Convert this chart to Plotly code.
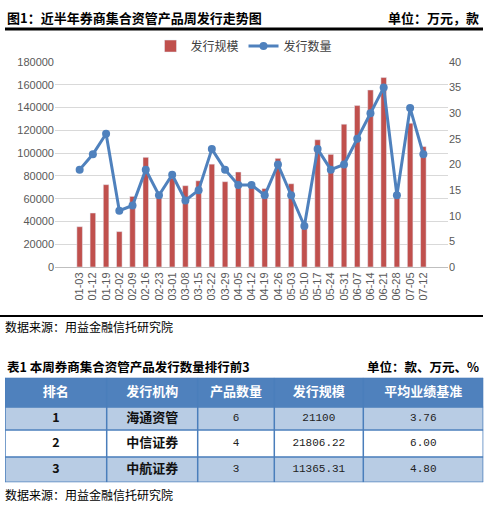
import plotly.graph_objects as go

W, H = 488, 512

weeks = ["01-03", "01-12", "01-19", "02-02", "02-09", "02-16", "02-23", "03-01", "03-08",
         "03-15", "03-22", "03-29", "04-05", "04-12", "04-19", "04-26", "05-03", "05-10",
         "05-17", "05-24", "05-31", "06-07", "06-14", "06-21", "06-28", "07-05", "07-12"]
scale = [35400, 47400, 72300, 31100, 62000, 96300, 63000, 78000, 71400,
         75700, 90300, 74900, 83400, 70600, 68900, 95400, 73100, 37000,
         111700, 98900, 125400, 141700, 155400, 166300, 63000, 126300, 105700]
count = [19, 22, 26, 11, 12, 19, 14, 18, 13,
         15, 23, 19, 16, 16, 14, 20, 14, 8,
         23, 19, 20, 25, 30, 35, 14, 31, 22]

tbl_header = ["排名", "发行机构", "产品数量", "发行规模", "平均业绩基准"]
rank = ["1", "2", "3"]
org = ["海通资管", "中信证券", "中航证券"]
num = ["6", "4", "3"]
amount = ["21100", "21806.22", "11365.31"]
bench = ["3.76", "6.00", "4.80"]

red = "#C0504D"
blue = "#4F81BD"
light = "#B8CCE4"
border = "#4A7EBB"
cjk = "Noto Sans CJK SC"
mono = "Liberation Mono"


def px_x(x):
    return x / W


def px_y(y):
    return 1 - y / H


# table geometry in page pixels
col_edges = [5, 106.7, 197.7, 274.3, 363.3, 483.3]
row_edges = [380.7, 410.7, 434.3, 461.7, 487.7]
col_mid = [(a + b) / 2 for a, b in zip(col_edges[:-1], col_edges[1:])]
row_mid = [(a + b) / 2 for a, b in zip(row_edges[:-1], row_edges[1:])]

fig = go.Figure()
fig.add_trace(go.Bar(x=weeks, y=scale, name="发行规模", marker_color=red, yaxis="y",
                     hoverinfo="skip"))
fig.add_trace(go.Scatter(x=weeks, y=count, name="发行数量", yaxis="y2", mode="lines+markers",
                         line=dict(color=blue, width=3), marker=dict(size=8, color=blue),
                         hoverinfo="skip"))

# table: cell fills as a heatmap, header blue, rows alternate
n_cols = len(tbl_header)
fills = [[2] * n_cols] + [[1 if i % 2 == 0 else 0] * n_cols for i in range(len(rank))]
fig.add_trace(go.Heatmap(z=fills, x=col_edges, y=row_edges, xaxis="x3", yaxis="y3",
                         zmin=0, zmax=2, showscale=False, hoverinfo="skip",
                         colorscale=[[0, "#FFFFFF"], [0.25, "#FFFFFF"], [0.25, light],
                                     [0.75, light], [0.75, blue], [1, blue]]))
fig.add_trace(go.Scatter(x=col_mid, y=[row_mid[0]] * n_cols, mode="text",
                         text=["<b>%s</b>" % h for h in tbl_header], xaxis="x3", yaxis="y3",
                         textfont=dict(family=cjk, size=13, color="white"),
                         showlegend=False, hoverinfo="skip", cliponaxis=False))
columns = [
    (["<b>%s</b>" % r for r in rank], dict(family=cjk, size=12.5, color="#111111")),
    (["<b>%s</b>" % o for o in org], dict(family=cjk, size=13, color="#111111")),
    (num, dict(family=mono, size=11, color="#222222")),
    (amount, dict(family=mono, size=11, color="#222222")),
    (bench, dict(family=mono, size=11, color="#222222")),
]
for i, (vals, f) in enumerate(columns):
    fig.add_trace(go.Scatter(x=[col_mid[i]] * len(vals), y=row_mid[1:], mode="text", text=vals,
                             xaxis="x3", yaxis="y3", textfont=f, showlegend=False,
                             hoverinfo="skip", cliponaxis=False))

for x in col_edges:
    fig.add_shape(type="line", xref="x3", yref="y3", x0=x, x1=x, y0=row_edges[0],
                  y1=row_edges[-1], line=dict(color=border, width=1.5))
for y in row_edges:
    fig.add_shape(type="line", xref="x3", yref="y3", x0=col_edges[0], x1=col_edges[-1],
                  y0=y, y1=y, line=dict(color=border, width=1.5))

fig.update_layout(
    width=W, height=H, margin=dict(l=0, r=0, t=0, b=0),
    paper_bgcolor="white", plot_bgcolor="white",
    font=dict(family=cjk, color="#595959"),
    bargap=0.58, showlegend=True,
    legend=dict(orientation="h", x=0.5, xanchor="center", y=px_y(41), yanchor="middle",
                font=dict(size=12, color="#404040"), itemwidth=30, tracegroupgap=0),
    xaxis=dict(domain=[px_x(55), px_x(448)], type="category", tickangle=-90,
               tickfont=dict(size=11, family="Liberation Sans"),
               showline=True, linecolor="#BFBFBF", ticks="", showgrid=False),
    yaxis=dict(domain=[px_y(267.3), px_y(57.3)], range=[0, 180000], dtick=20000,
               gridcolor="#D9D9D9", tickfont=dict(size=11, family="Liberation Sans"),
               zeroline=False, tickformat="d"),
    yaxis2=dict(overlaying="y", side="right", range=[0, 40], dtick=5, showgrid=False,
                tickfont=dict(size=11, family="Liberation Sans"), zeroline=False, anchor="x"),
    xaxis3=dict(domain=[px_x(col_edges[0]), px_x(col_edges[-1])],
                range=[col_edges[0], col_edges[-1]], visible=False, anchor="y3"),
    yaxis3=dict(domain=[px_y(row_edges[-1]), px_y(row_edges[0])],
                range=[row_edges[-1], row_edges[0]], visible=False, anchor="x3"),
)

# header rules
fig.add_shape(type="line", xref="paper", yref="paper", x0=px_x(5), x1=px_x(483),
              y0=px_y(23.5), y1=px_y(23.5), line=dict(color="black", width=3))
fig.add_shape(type="line", xref="paper", yref="paper", x0=px_x(0), x1=px_x(483),
              y0=px_y(317.5), y1=px_y(317.5), line=dict(color="black", width=2))

notes = [
    ("<b>图1：近半年券商集合资管产品周发行走势图</b>", 5, 12, "left", 13),
    ("<b>单位：万元，款</b>", 481, 12, "right", 13),
    ("数据来源：用益金融信托研究院", 3, 328, "left", 12),
    ("<b>表1 本周券商集合资管产品发行数量排行前3</b>", 5, 369, "left", 12.5),
    ("<b>单位：款、万元、%</b>", 481, 369, "right", 12.5),
    ("数据来源：用益金融信托研究院", 3, 500, "left", 12),
]
for text, x, y, anchor, size in notes:
    fig.add_annotation(text=text, xref="paper", yref="paper", x=px_x(x), y=px_y(y),
                       xanchor=anchor, yanchor="middle", showarrow=False,
                       font=dict(size=size, color="black", family=cjk))

fig.write_html("out.html", config={"displayModeBar": False},
               post_script="document.body.style.margin='0';")
